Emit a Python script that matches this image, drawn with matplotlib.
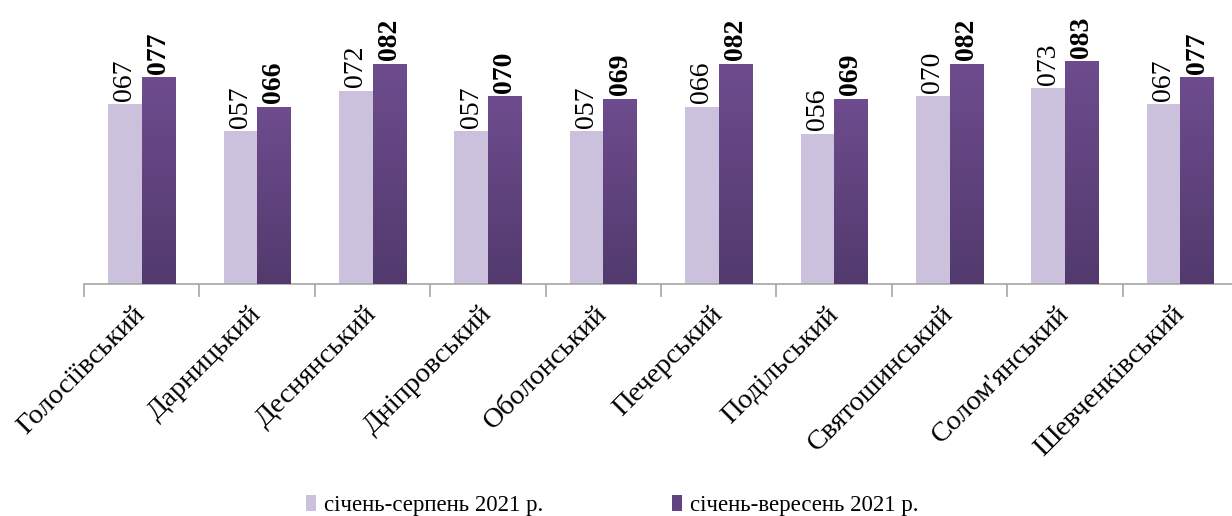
import numpy as np
import matplotlib
matplotlib.use("Agg")
import matplotlib.pyplot as plt
from matplotlib.colors import LinearSegmentedColormap

plt.rcParams['font.family'] = ['Liberation Serif', 'DejaVu Serif']

districts = ["Голосіївський", "Дарницький", "Деснянський", "Дніпровський", "Оболонський",
             "Печерський", "Подільський", "Святошинський", "Солом'янський", "Шевченківський"]
jan_aug = [67, 57, 72, 57, 57, 66, 56, 70, 73, 67]
jan_sep = [77, 66, 82, 70, 69, 82, 69, 82, 83, 77]
series_names = ["січень-серпень 2021 р.", "січень-вересень 2021 р."]

light = "#cbc1dc"
dark_top = "#6e4c8e"
dark_bot = "#523a6d"
dark_mid = "#5f4480"

W, H = 1232, 516
fig = plt.figure(figsize=(W / 100, H / 100), dpi=100)
ax = fig.add_axes([84 / W, (H - 284) / H, 1154 / W, 284 / H])

x = np.arange(len(districts))
bw = 0.29
b1 = ax.bar(x - bw / 2, jan_aug, bw, color=light, label=series_names[0], zorder=2)
b2 = ax.bar(x + bw / 2, jan_sep, bw, color=dark_mid, label=series_names[1], zorder=2)

cmap = LinearSegmentedColormap.from_list("g", [dark_bot, dark_top])
grad = np.linspace(0, 1, 256).reshape(-1, 1)
for p in b2.patches:
    x0, y0 = p.get_x(), p.get_y()
    w, h = p.get_width(), p.get_height()
    im = ax.imshow(grad, cmap=cmap, origin='lower', extent=[x0, x0 + w, y0, y0 + h],
                   aspect='auto', zorder=3)
    im.set_clip_path(p)

for i in range(len(districts)):
    ax.text(x[i] - bw / 2, jan_aug[i] + 1.2, f"{jan_aug[i]:03d}", rotation=90,
            ha='center', va='bottom', fontsize=20)
    ax.text(x[i] + bw / 2, jan_sep[i] + 1.2, f"{jan_sep[i]:03d}", rotation=90,
            ha='center', va='bottom', fontsize=20, fontweight='bold')

ax.set_xlim(-0.5, len(districts) - 0.5)
ax.set_ylim(0, 105.7)

for s in ['top', 'right', 'left']:
    ax.spines[s].set_visible(False)
ax.spines['bottom'].set_color('#a6a6a6')
ax.spines['bottom'].set_linewidth(1.2)
ax.set_yticks([])

ax.set_xticks(x)
ax.set_xticklabels(districts, rotation=45, ha='right', va='center',
                   rotation_mode='anchor', fontsize=20.5)
ax.tick_params(axis='x', which='major', length=0, pad=19)
ax.set_xticks(np.arange(-0.5, len(districts), 1), minor=True)
ax.tick_params(axis='x', which='minor', length=9, width=1.2, color='#a6a6a6', direction='out')

leg = fig.legend(handles=[b1, b2], labels=series_names, loc='lower center',
                 bbox_to_anchor=(0.497, -0.04), ncol=2, frameon=False, fontsize=16.5,
                 handlelength=0.45, handleheight=0.65, handletextpad=0.35, columnspacing=5.6)

fig.savefig("out.png", dpi=100)
